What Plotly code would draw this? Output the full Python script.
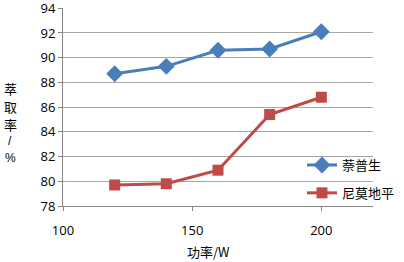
import plotly.graph_objects as go

power = [120, 140, 160, 180, 200]
naproxen = [88.7, 89.3, 90.6, 90.7, 92.1]
nimodipine = [79.7, 79.8, 80.9, 85.4, 86.8]
names = ["萘普生", "尼莫地平"]
y_ticks = [78, 80, 82, 84, 86, 88, 90, 92, 94]
x_ticks = [100, 150, 200]
y_title_chars = ["萃", "取", "率", "/", "%"]

fig = go.Figure()
fig.add_trace(go.Scatter(x=power, y=naproxen, name=names[0], mode="lines+markers",
                         legendgroup="a",
                         line=dict(color="#4A7EBB", width=3),
                         marker=dict(symbol="diamond", size=13, color="#4A7EBB")))
fig.add_trace(go.Scatter(x=power, y=nimodipine, name=names[1], mode="lines+markers",
                         legendgroup="b",
                         line=dict(color="#BE4B48", width=3),
                         marker=dict(symbol="square", size=11, color="#BE4B48")))

W, H = 404, 262
L, R, T, B = 63, 31, 8, 56
pw, ph = W - L - R, H - T - B

def px_x(x):
    return (x - L) / pw

def px_y(y):
    return (H - B - y) / ph

annotations = []
ys = [88, 106, 124, 141, 158]
for ch, yy in zip(y_title_chars, ys):
    fam = "Noto Sans CJK SC" if ch not in "/%" else "Liberation Sans"
    annotations.append(dict(text=ch, x=px_x(10), y=px_y(yy), xref="paper", yref="paper",
                            xanchor="center", yanchor="middle", showarrow=False,
                            font=dict(family=fam, size=13 if ch not in "/%" else 12)))
annotations.append(dict(text="功率/W", x=px_x(208), y=px_y(251), xref="paper", yref="paper",
                        xanchor="center", yanchor="middle", showarrow=False,
                        font=dict(family="Noto Sans CJK SC", size=13)))

fig.update_layout(
    width=W, height=H,
    margin=dict(l=L, r=R, t=T, b=B, autoexpand=False),
    paper_bgcolor="white", plot_bgcolor="white",
    font=dict(family="Open Sans, Liberation Sans, sans-serif", size=13, color="#000"),
    showlegend=True,
    legend=dict(x=px_x(302), y=px_y(179), xanchor="left", yanchor="middle",
                bgcolor="rgba(0,0,0,0)", font=dict(family="Noto Sans CJK SC", size=13),
                traceorder="grouped", tracegroupgap=8, itemwidth=30),
    xaxis=dict(range=[100, 220], tickvals=x_ticks, showgrid=False, showline=True,
               linecolor="#868686", linewidth=1, ticks="outside", ticklen=4,
               tickcolor="#868686", zeroline=False, ticklabelstandoff=8),
    yaxis=dict(range=[78, 94.02], tickvals=y_ticks, showgrid=True, gridcolor="#A6A6A6",
               gridwidth=1, showline=True, linecolor="#868686", linewidth=1,
               ticks="outside", ticklen=4, tickcolor="#868686", zeroline=False,
               ticklabeloverflow="allow"),
    annotations=annotations,
)
fig.write_html("out.html", config={"displayModeBar": False},
               post_script="document.body.style.margin='0';document.body.style.overflow='hidden';")
